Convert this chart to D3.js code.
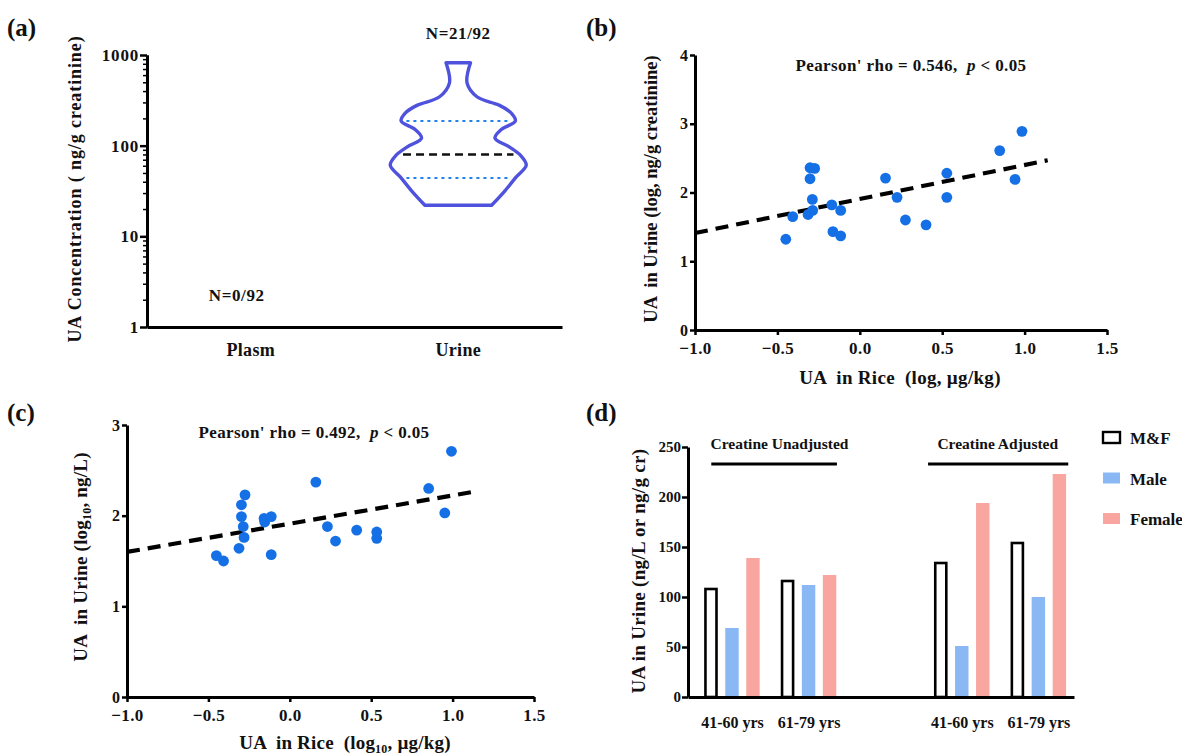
<!DOCTYPE html>
<html><head><meta charset="utf-8">
<script src="https://cdn.jsdelivr.net/npm/d3@7"></script>
<style>
body{margin:0;background:#fff;}
svg text{font-family:"Liberation Serif","Times New Roman",serif;font-weight:bold;fill:#111;white-space:pre;}
</style></head><body>
<svg id="fig" width="1182" height="756"></svg>
<script>
// panel (a) - violin of urine UA (plasma all below LOD)
const sampleTypes = ["Plasm", "Urine"];
const violinLevels = [22, 32, 45, 61, 79, 97, 121, 150, 187, 229, 280, 344, 490, 820];
const violinDensity = [0.49, 0.69, 0.85, 1.0, 0.91, 0.75, 0.54, 0.63, 0.84, 0.78, 0.60, 0.28, 0.13, 0.18];
const violinQuart = [44, 80, 187];
const logTicks = [1, 10, 100, 1000];

// panel (b) - log rice vs log urine (creatinine adjusted)
const riceB = [-0.449, -0.407, -0.302, -0.274, -0.302, -0.288, -0.314, -0.286, -0.170, -0.116, -0.163, -0.116, 0.156, 0.226, 0.277, 0.402, 0.528, 0.528, 0.849, 0.942, 0.984];
const urineB = [1.32, 1.65, 2.36, 2.35, 2.20, 1.90, 1.68, 1.74, 1.82, 1.74, 1.43, 1.37, 2.21, 1.93, 1.60, 1.53, 2.28, 1.93, 2.61, 2.19, 2.89];
const fitBx = [-1.0, 1.14];
const fitBy = [1.41, 2.47];

// panel (c) - log rice vs log urine (ng/L)
const riceC = [-0.451, -0.407, -0.312, -0.297, -0.275, -0.297, -0.286, -0.281, -0.158, -0.154, -0.114, -0.114, 0.160, 0.231, 0.281, 0.411, 0.534, 0.534, 0.853, 0.952, 0.993];
const urineC = [1.56, 1.50, 1.64, 2.12, 2.23, 1.99, 1.88, 1.76, 1.97, 1.93, 1.99, 1.57, 2.37, 1.88, 1.72, 1.84, 1.82, 1.75, 2.30, 2.03, 2.71];
const fitCx = [-1.0, 1.15];
const fitCy = [1.60, 2.27];
const rangeTicks = [-1.0, -0.5, 0.0, 0.5, 1.0, 1.5];

// panel (d) - bars by age group
const ageGroups = ["41-60 yrs", "61-79 yrs", "41-60 yrs", "61-79 yrs"];
const groupSlot = [0, 1, 3, 4];
const sexKeys = ["M&F", "Male", "Female"];
const valMF = [108, 116, 134, 154];
const valMale = [69, 112, 51, 100];
const valFemale = [139, 122, 194, 223];
const sexColor = {"M&F": "#fff", "Male": "#89b8f4", "Female": "#f9a6a0"};

const svg = d3.select("#fig");

function styleAxis(g, fs, ls){
  g.attr("font-family", null).attr("font-size", fs || 17);
  g.select(".domain").attr("stroke", "#000").attr("stroke-width", 3);
  g.selectAll(".tick line").attr("stroke", "#000").attr("stroke-width", 2.5);
  g.selectAll(".tick text").attr("fill", "#111").attr("letter-spacing", ls || 0);
}
function panelLabel(t, x, y){
  svg.append("text").attr("x", x).attr("y", y).attr("font-size", 25).text(t);
}
function yTitle(x, y, fs, ls, build){
  const t = svg.append("text").attr("transform", "translate(" + x + "," + y + ") rotate(-90)")
    .attr("text-anchor", "middle").attr("dy", "0.35em").attr("font-size", fs).attr("letter-spacing", ls);
  build(t);
}
function sub10(t, before, after){
  t.append("tspan").text(before);
  t.append("tspan").attr("font-size", 12).attr("dy", 4).text("10");
  t.append("tspan").attr("dy", -4).text(after);
}

// ---------- (a)
panelLabel("(a)", 7, 36);
const xa = d3.scaleBand(sampleTypes, [147, 562]);
const ya = d3.scaleLog([1, 1000], [327, 55]);

svg.append("g").attr("transform", "translate(0,327)")
  .call(d3.axisBottom(xa).tickSize(0).tickSizeOuter(0).tickPadding(16))
  .call(g => styleAxis(g, 18, 0.3));
svg.append("g").attr("transform", "translate(147,0)")
  .call(d3.axisLeft(ya).tickValues(ya.ticks().filter(d => !logTicks.includes(d))).tickFormat("").tickSize(4).tickSizeOuter(0))
  .call(g => styleAxis(g)).call(g => g.selectAll(".tick line").attr("stroke-width", 1.5));
svg.append("g").attr("transform", "translate(147,0)")
  .call(d3.axisLeft(ya).tickValues(logTicks).tickFormat(d3.format("d")).tickSize(7).tickSizeOuter(0).tickPadding(1))
  .call(g => styleAxis(g, 17, 0.8));

yTitle(75, 189, 18, 0.9, t => t.text("UA Concentration ( ng/g creatinine)"));

const cx = xa("Urine") + xa.bandwidth() / 2;
const vw = d3.scaleLinear([0, 1], [0, 68]);
const densAt = d3.scaleLinear(violinLevels.map(Math.log10), violinDensity).clamp(true);
const vdata = violinLevels.map((v, i) => ({v: v, d: violinDensity[i]}));
svg.append("path").datum(vdata)
  .attr("d", d3.area().curve(d3.curveCatmullRom)
    .y(d => ya(d.v)).x0(d => cx - vw(d.d)).x1(d => cx + vw(d.d)))
  .attr("fill", "none").attr("stroke", "#4f52dc").attr("stroke-width", 3.4).attr("stroke-linejoin", "round");
violinQuart.forEach((q, i) => {
  const hw = vw(densAt(Math.log10(q))) - 6;
  svg.append("line").attr("x1", cx - hw).attr("x2", cx + hw).attr("y1", ya(q)).attr("y2", ya(q))
    .attr("stroke", i === 1 ? "#111" : "#1f82f0")
    .attr("stroke-width", i === 1 ? 2.6 : 2)
    .attr("stroke-dasharray", i === 1 ? "8,5" : "1.5,5.5")
    .attr("stroke-linecap", i === 1 ? "butt" : "round");
});
svg.append("text").attr("x", xa("Plasm") + xa.bandwidth() / 2 - 14).attr("y", 301).attr("text-anchor", "middle").attr("font-size", 17).attr("letter-spacing", 0.6).text("N=0/92");
svg.append("text").attr("x", cx).attr("y", 39).attr("text-anchor", "middle").attr("font-size", 17).attr("letter-spacing", 0.6).text("N=21/92");

// ---------- scatter panels
function scatter(xr, yr, ydom, yticks, xs, ys, fx, fy, rhoText, rhoPos){
  const x = d3.scaleLinear([-1, 1.5], xr);
  const y = d3.scaleLinear(ydom, yr);
  svg.append("g").attr("transform", "translate(0," + yr[0] + ")")
    .call(d3.axisBottom(x).tickValues(rangeTicks).tickFormat(d3.format(".1f")).tickSize(5).tickSizeOuter(0).tickPadding(7))
    .call(g => styleAxis(g, 17, 0.4));
  svg.append("g").attr("transform", "translate(" + xr[0] + ",0)")
    .call(d3.axisLeft(y).tickValues(yticks).tickFormat(d3.format("d")).tickSize(5).tickSizeOuter(0).tickPadding(2))
    .call(g => styleAxis(g, 16));
  svg.append("line").attr("x1", x(fx[0])).attr("x2", x(fx[1])).attr("y1", y(fy[0])).attr("y2", y(fy[1]))
    .attr("stroke", "#000").attr("stroke-width", 4.2).attr("stroke-dasharray", "13,8");
  svg.append("g").selectAll("circle").data(xs).join("circle")
    .attr("cx", d => x(d)).attr("cy", (d, i) => y(ys[i])).attr("r", 5.4).attr("fill", "#1570e6");
  const t = svg.append("text").attr("x", rhoPos[0]).attr("y", rhoPos[1]).attr("text-anchor", "middle")
    .attr("font-size", 17).attr("letter-spacing", 0.4);
  t.append("tspan").text(rhoText + ",  ");
  t.append("tspan").attr("font-style", "italic").text("p");
  t.append("tspan").text(" < 0.05");
}

panelLabel("(b)", 586, 36);
scatter([695, 1107], [330, 55], [0, 4], [0, 1, 2, 3, 4], riceB, urineB, fitBx, fitBy, "Pearson' rho = 0.546", [911, 71]);
yTitle(651, 189, 18.5, 0, t => t.text("UA  in Urine (log, ng/g creatinine)"));
svg.append("text").attr("x", 900).attr("y", 384).attr("text-anchor", "middle").attr("font-size", 19).attr("letter-spacing", 0.3).text("UA  in Rice  (log, \u00b5g/kg)");

panelLabel("(c)", 7, 421);
scatter([127, 534], [697, 425], [0, 3], [0, 1, 2, 3], riceC, urineC, fitCx, fitCy, "Pearson' rho = 0.492", [314, 438]);
yTitle(80, 557, 19, 0.2, t => sub10(t, "UA  in Urine (log", ", ng/L)"));
const xtc = svg.append("text").attr("x", 345).attr("y", 749).attr("text-anchor", "middle").attr("font-size", 19).attr("letter-spacing", 0.2);
sub10(xtc, "UA  in Rice  (log", ", \u00b5g/kg)");

// ---------- (d)
panelLabel("(d)", 586, 421);
const yd = d3.scaleLinear([0, 250], [697, 447]);
const xd = d3.scaleLinear([-0.574, 4.465], [688, 1074]);
const sx = d3.scaleBand(sexKeys, [-31.5, 31.5]).paddingInner(0.36).paddingOuter(0.18);
const vals = {"M&F": valMF, "Male": valMale, "Female": valFemale};

svg.append("g").attr("transform", "translate(688,0)")
  .call(d3.axisLeft(yd).tickValues([0, 50, 100, 150, 200, 250]).tickSize(6).tickSizeOuter(0).tickPadding(1))
  .call(g => styleAxis(g, 15));

const bars = [];
ageGroups.forEach((g, i) => sexKeys.forEach(k => bars.push({slot: groupSlot[i], key: k, v: vals[k][i]})));
svg.append("g").selectAll("rect").data(bars).join("rect")
  .attr("x", d => xd(d.slot) + sx(d.key) + (d.key === "M&F" ? 1.2 : 0))
  .attr("width", d => sx.bandwidth() - (d.key === "M&F" ? 2.4 : 0))
  .attr("y", d => yd(d.v)).attr("height", d => yd(0) - yd(d.v))
  .attr("fill", d => sexColor[d.key])
  .attr("stroke", d => d.key === "M&F" ? "#000" : "none").attr("stroke-width", 2.6);

svg.append("g").attr("transform", "translate(0,697)")
  .call(d3.axisBottom(xd).tickValues(groupSlot).tickFormat((d, i) => ageGroups[i]).tickSize(0).tickSizeOuter(0).tickPadding(20))
  .call(g => styleAxis(g, 16));

[["Creatine Unadjusted", 0.62, -0.27, 1.37], ["Creatine Adjusted", 3.47, 2.56, 4.39]].forEach(h => {
  svg.append("text").attr("x", xd(h[1])).attr("y", 449).attr("text-anchor", "middle").attr("font-size", 15.5).text(h[0]);
  svg.append("line").attr("x1", xd(h[2])).attr("x2", xd(h[3])).attr("y1", 464).attr("y2", 464).attr("stroke", "#000").attr("stroke-width", 3);
});
yTitle(638, 571, 19, 0.3, t => t.text("UA in Urine (ng/L or ng/g cr)"));

const leg = svg.append("g").selectAll("g").data(sexKeys).join("g")
  .attr("transform", (d, i) => "translate(1103," + (432 + i * 40.5) + ")");
leg.append("rect").attr("width", 17).attr("height", 11)
  .attr("fill", d => sexColor[d]).attr("stroke", d => d === "M&F" ? "#000" : "none").attr("stroke-width", 2.4);
leg.append("text").attr("x", 27).attr("y", 12).attr("font-size", 17).text(d => d);
</script>
</body></html>
